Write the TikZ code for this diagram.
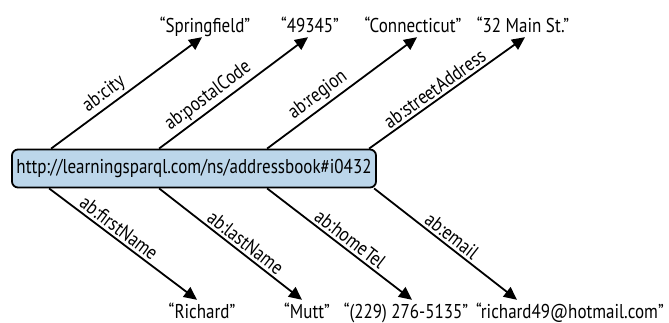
\documentclass[tikz,border=0pt]{standalone}
\usepackage{fontspec}
\setmainfont[FakeStretch=0.85]{PT Sans}
\usetikzlibrary{arrows.meta}
\definecolor{boxfill}{HTML}{BCD6EA}
\begin{document}
\begin{tikzpicture}[x=1pt, y=-1pt,
  font=\fontsize{20}{22}\selectfont,
  resource/.style={draw, line width=1.8pt, rounded corners=6pt, fill=boxfill,
    minimum width=364pt, minimum height=38pt, inner sep=0pt},
  literal/.style={anchor=base, inner sep=0pt, text height=14pt, text depth=4pt},
  rel/.style={line width=1.8pt, -{Triangle[length=13pt,width=12pt]}},
  lbl/.style={sloped, above, inner sep=2.5pt}]
\useasboundingbox (0,0) rectangle (669,323);

% subject resource
\node[resource] (res) at (194,168.5) {http://learningsparql.com/ns/addressbook\#i0432};

% object literals above
\node[literal] (city)   at (205,33) {“Springfield”};
\node[literal] (postal) at (310,33) {“49345”};
\node[literal] (region) at (413,33) {“Connecticut”};
\node[literal] (street) at (523,33) {“32 Main St.”};

% object literals below
\node[literal] (first) at (202,318) {“Richard”};
\node[literal] (last)  at (307,318) {“Mutt”};
\node[literal] (tel)   at (406,318) {“(229) 276-5135”};
\node[literal] (email) at (570,318) {“richard49@hotmail.com”};

% start points on the resource box
\coordinate (s1) at ([xshift=40pt]res.north west);
\coordinate (s2) at ([xshift=148pt]res.north west);
\coordinate (s3) at ([xshift=256pt]res.north west);
\coordinate (s4) at ([xshift=358pt]res.north west);
\coordinate (b1) at ([xshift=38pt]res.south west);
\coordinate (b2) at ([xshift=148pt]res.south west);
\coordinate (b3) at ([xshift=256pt]res.south west);
\coordinate (b4) at ([xshift=363pt]res.south west);

% predicates
\draw[rel] (s1) -- node[lbl, pos=0.40] {ab:city} ([xshift=-3pt]city.south);
\draw[rel] (s2) -- node[lbl, pos=0.38] {ab:postalCode} ([xshift=-2pt]postal.south);
\draw[rel] (s3) -- node[lbl, pos=0.39] {ab:region} ([xshift=4pt]region.south);
\draw[rel] (s4) -- node[lbl, pos=0.46] {ab:streetAddress} ([xshift=2pt]street.south);

\draw[rel] (b1) -- node[lbl, pos=0.43] {ab:firstName} ([xshift=-5pt,yshift=4pt]first.north);
\draw[rel] (b2) -- node[lbl, pos=0.56] {ab:lastName} ([xshift=-5pt,yshift=4pt]last.north);
\draw[rel] (b3) -- node[lbl, pos=0.53] {ab:homeTel} ([xshift=6pt,yshift=4pt]tel.north);
\draw[rel] (b4) -- node[lbl, pos=0.50] {ab:email} ([xshift=-53pt,yshift=4pt]email.north);
\end{tikzpicture}
\end{document}
